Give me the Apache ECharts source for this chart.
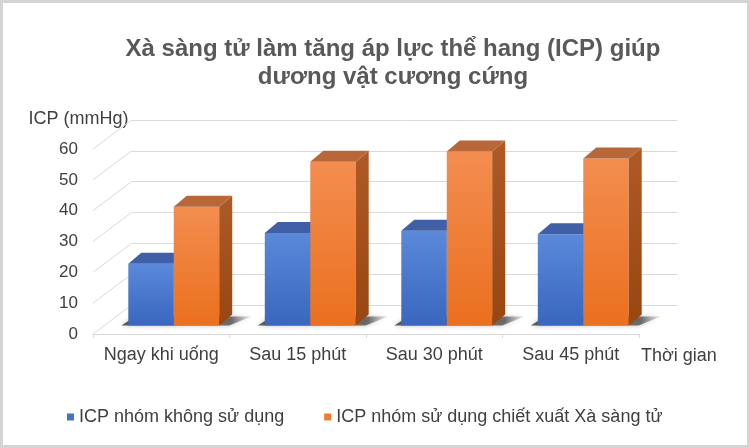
<!DOCTYPE html>
<html>
<head>
<meta charset="utf-8">
<script src="https://cdn.jsdelivr.net/npm/echarts@6/dist/echarts.min.js"></script>
<style>
html,body{margin:0;padding:0;background:#fff;}
#chart{position:absolute;left:0;top:0;width:750px;height:448px;}
</style>
</head>
<body>
<div id="chart"></div>
<script>
// ---- data ----
const categories = ['Ngay khi uống', 'Sau 15 phút', 'Sau 30 phút', 'Sau 45 phút'];
const seriesNames = ['ICP nhóm không sử dụng', 'ICP nhóm sử dụng chiết xuất Xà sàng tử'];
const valuesControl = [20, 30, 30.7, 29.6];
const valuesExtract = [38.5, 53.1, 56.4, 54.2];
const yTicks = [0, 10, 20, 30, 40, 50, 60];
const chartTitle = 'Xà sàng tử làm tăng áp lực thể hang (ICP) giúp\ndương vật cương cứng';
const yAxisName = 'ICP (mmHg)';
const xAxisName = 'Thời gian';

// ---- 3D geometry (style constants) ----
const WALL_DX = 38.5, WALL_DY = -29;     // depth of the whole plot box
const BAR_DX = 11, BAR_DY = -8.5;        // front plane of bars
const DEPTH_DX = 13, DEPTH_DY = -11;     // bar thickness
const FONT = "'Liberation Sans', Arial, sans-serif";

const chart = echarts.init(document.getElementById('chart'), null, {renderer: 'canvas'});
const LG = echarts.graphic.LinearGradient;

function barRender(startFrac, endFrac, c) {
  return function (params, api) {
    const idx = api.value(0), v = api.value(1);
    const band = api.size([1, 0])[0];
    const base = api.coord([idx, 0]);
    const top = api.coord([idx, v]);
    const x0 = base[0] + BAR_DX + startFrac * band;
    const x1 = base[0] + BAR_DX + endFrac * band;
    const yb = base[1] + BAR_DY, yt = top[1] + BAR_DY;
    return {
      type: 'group',
      children: [
        {type: 'rect', shape: {x: x0, y: yt, width: x1 - x0, height: yb - yt},
          style: {fill: new LG(0, 0, 0, 1, [{offset: 0, color: c.front0}, {offset: 1, color: c.front1}])}},
        {type: 'polygon', shape: {points: [[x1, yt], [x1 + DEPTH_DX, yt + DEPTH_DY], [x1 + DEPTH_DX, yb + DEPTH_DY], [x1, yb]]},
          style: {fill: new LG(0, 0, 0, 1, [{offset: 0, color: c.side0}, {offset: 1, color: c.side1}])}},
        {type: 'polygon', shape: {points: [[x0, yt], [x1, yt], [x1 + DEPTH_DX, yt + DEPTH_DY], [x0 + DEPTH_DX, yt + DEPTH_DY]]},
          style: {fill: c.top}}
      ]
    };
  };
}

const BLUE_START = -0.322, SPLIT = 0.011, ORANGE_END = 0.344;

const option = {
  animation: false,
  backgroundColor: '#ffffff',
  title: {
    text: chartTitle,
    left: 388, top: 30, textAlign: 'center',
    textStyle: {fontFamily: FONT, fontSize: 24, fontWeight: 'bold', color: '#595959', lineHeight: 28}
  },
  legend: {
    data: seriesNames,
    left: 62, top: 403,
    itemWidth: 7, itemHeight: 7, itemGap: 40, icon: 'rect',
    textStyle: {fontFamily: FONT, fontSize: 18, color: '#404040'}
  },
  grid: [
    {left: 93, right: 111, top: 149, bottom: 114},   // front plane
    {left: 131.5, right: 72.5, top: 120, bottom: 143} // back wall
  ],
  xAxis: [
    {type: 'category', gridIndex: 0, data: categories,
      name: xAxisName, nameLocation: 'end', nameGap: 2,
      nameTextStyle: {fontFamily: FONT, fontSize: 18, color: '#404040', verticalAlign: 'top', padding: [13, 0, 0, 0]},
      axisLine: {lineStyle: {color: '#D9D9D9', width: 1}},
      axisTick: {show: true, length: 4, lineStyle: {color: '#D9D9D9'}},
      axisLabel: {fontFamily: FONT, fontSize: 18, color: '#404040', margin: 12, interval: 0}},
    {type: 'category', gridIndex: 1, data: categories, show: false}
  ],
  yAxis: [
    {type: 'value', gridIndex: 0, min: 0, max: 60, interval: 10,
      axisLine: {show: false}, axisTick: {show: false}, splitLine: {show: false},
      axisLabel: {fontFamily: FONT, fontSize: 17, color: '#404040', margin: 15}},
    {type: 'value', gridIndex: 1, min: 0, max: 60, interval: 10,
      name: yAxisName, nameLocation: 'end', nameGap: 1,
      nameTextStyle: {fontFamily: FONT, fontSize: 18, color: '#404040', align: 'right', verticalAlign: 'middle', padding: [0, 3, 0, 0]},
      axisLine: {show: false}, axisTick: {show: false}, axisLabel: {show: false},
      splitLine: {show: true, lineStyle: {color: '#D9D9D9', width: 1}}}
  ],
  series: [
    { // left wall gridlines (diagonals)
      type: 'custom', name: 'walls', xAxisIndex: 0, yAxisIndex: 0, z: 1, silent: true,
      data: yTicks.map(v => [0, v]),
      renderItem: function (params, api) {
        const p = api.coord([0, api.value(1)]);
        const x = params.coordSys.x;
        return {type: 'line', shape: {x1: x, y1: p[1], x2: x + WALL_DX, y2: p[1] + WALL_DY},
          style: {stroke: '#D9D9D9', lineWidth: 1}};
      }
    },
    { // floor shadows
      type: 'custom', name: 'shadow', xAxisIndex: 0, yAxisIndex: 0, z: 2, silent: true,
      data: categories.map((c, i) => [i, 0]),
      renderItem: function (params, api) {
        const idx = api.value(0);
        const band = api.size([1, 0])[0];
        const base = api.coord([idx, 0]);
        const x0 = base[0] + BAR_DX + BLUE_START * band;
        const x1 = base[0] + BAR_DX + ORANGE_END * band;
        const yb = base[1] + BAR_DY;
        return {type: 'polygon',
          shape: {points: [[x0 - 7, yb], [x1 + 10, yb], [x1 + DEPTH_DX + 19, yb + DEPTH_DY + 2], [x0 + DEPTH_DX - 6, yb + DEPTH_DY + 2]]},
          style: {fill: new LG(0, 0, 1, 0, [{offset: 0, color: 'rgba(30,30,30,0.7)'}, {offset: 0.85, color: 'rgba(40,40,40,0.6)'}, {offset: 1, color: 'rgba(110,110,110,0.15)'}]),
            shadowBlur: 5, shadowColor: 'rgba(0,0,0,0.4)'}};
      }
    },
    {
      type: 'custom', name: seriesNames[0], xAxisIndex: 0, yAxisIndex: 0, z: 3,
      itemStyle: {color: '#4472C4'},
      data: valuesControl.map((v, i) => [i, v]),
      renderItem: barRender(BLUE_START, SPLIT, {front0: '#5A89DA', front1: '#3A66BF', side0: '#33569C', side1: '#2B4A88', top: '#3F5FA6'})
    },
    {
      type: 'custom', name: seriesNames[1], xAxisIndex: 0, yAxisIndex: 0, z: 4,
      itemStyle: {color: '#ED7D31'},
      data: valuesExtract.map((v, i) => [i, v]),
      renderItem: barRender(SPLIT, ORANGE_END, {front0: '#F38D50', front1: '#EA701E', side0: '#AE5A27', side1: '#984711', top: '#B86739'})
    }
  ],
  graphic: [
    {type: 'rect', z: 100, silent: true, shape: {x: 1.5, y: 1.5, width: 747, height: 445},
      style: {fill: 'none', stroke: '#D4D4D4', lineWidth: 3}}
  ]
};
chart.setOption(option);
</script>
</body>
</html>
